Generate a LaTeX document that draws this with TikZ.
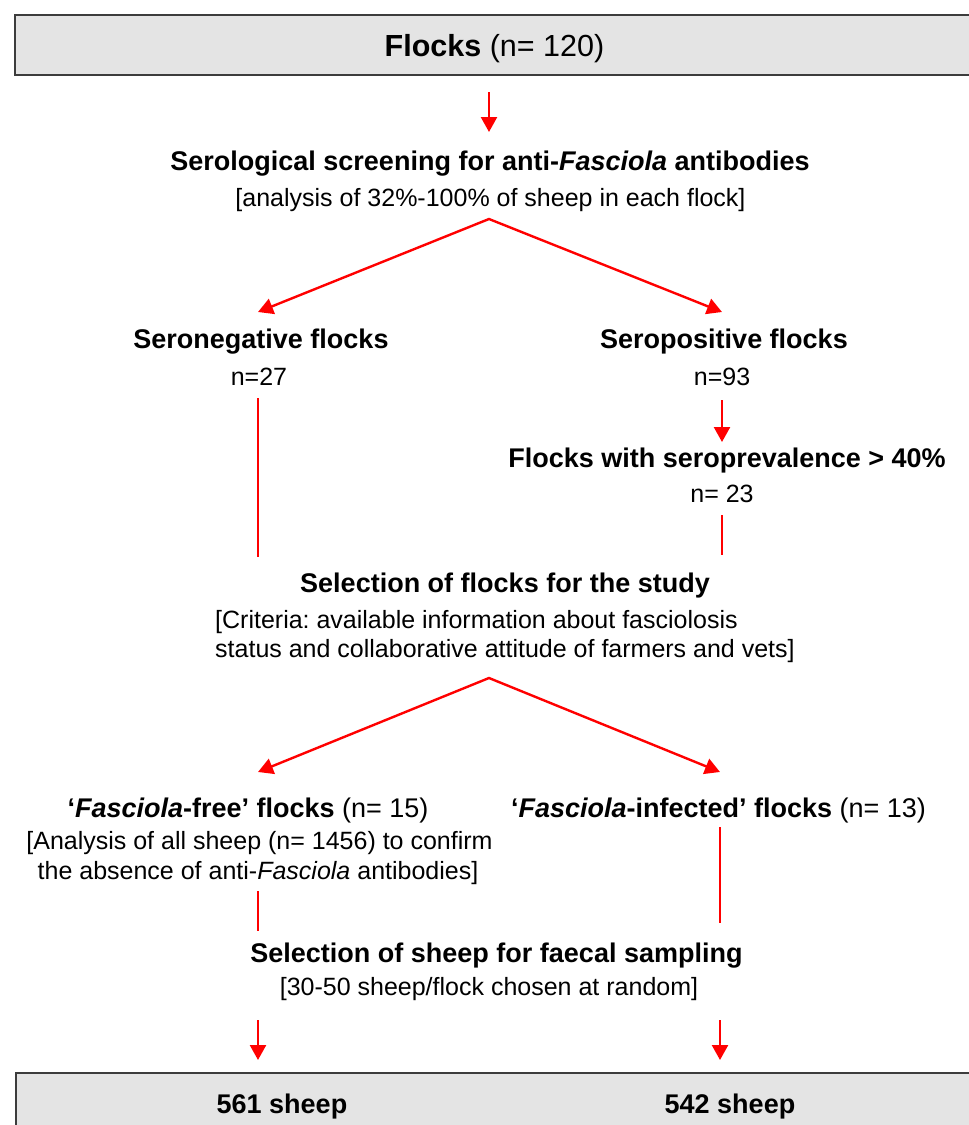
\documentclass[tikz,border=0pt]{standalone}
\usepackage{fontspec}
\setmainfont{Liberation Sans}
\usetikzlibrary{arrows.meta}
\definecolor{boxgray}{HTML}{E4E4E4}
\definecolor{boxline}{HTML}{3C3C3C}
\definecolor{arrred}{HTML}{FF0000}
\frenchspacing
\begin{document}
\begin{tikzpicture}[x=1pt,y=-1pt,
  hd/.style={anchor=base, inner sep=0pt, font=\fontsize{27}{32}\selectfont\bfseries},
  sub/.style={anchor=base, inner sep=0pt, font=\fontsize{25}{29}\selectfont},
  big/.style={anchor=base, inner sep=0pt, font=\fontsize{30.5}{36}\selectfont},
  panel/.style={draw=boxline, fill=boxgray, line width=1.5pt, inner sep=0pt},
  tipa/.tip={Triangle[width=16pt,length=15pt]},
  arr/.style={draw=arrred, line width=2.4pt, -tipa},
  darr/.style={draw=arrred, line width=2.4pt, tipa-tipa, line join=miter},
  ln/.style={draw=arrred, line width=2.4pt},
]
\useasboundingbox (0,0) rectangle (969,1125);
\clip (0,0) rectangle (969,1125);

% boxes
\node[panel, anchor=north west, minimum width=975pt, minimum height=60pt] (topbox) at (14,14) {};
\node[panel, anchor=north west, minimum width=975pt, minimum height=80pt] (botbox) at (15,1072) {};

% texts
\node[big] (flocks) at (494.5,56) {\textbf{Flocks} (n= 120)};
\node[hd] (screen) at (490,170) {Serological screening for anti-\textit{Fasciola} antibodies};
\node[sub] (screensub) at (490.5,206) {[analysis of 32\%-100\% of sheep in each flock]};
\node[hd] (neg) at (261,348) {Seronegative flocks};
\node[sub] (negn) at (259,385) {n=27};
\node[hd] (pos) at (724,348) {Seropositive flocks};
\node[sub] (posn) at (722,385) {n=93};
\node[hd] (prev) at (727,467) {Flocks with seroprevalence > 40\%};
\node[sub] (prevn) at (722,502) {n= 23};
\node[hd] (sel) at (505,592) {Selection of flocks for the study};
\node[sub, anchor=base west] (crit1) at (215,628) {[Criteria: available information about fasciolosis};
\node[sub, anchor=base west] (crit2) at (215,657) {status and collaborative attitude of farmers and vets]};
\node[hd] (free) at (248,817) {‘\textit{Fasciola}-free’ flocks \textmd{(n= 15)}};
\node[sub] (free1) at (259.5,849) {[Analysis of all sheep (n= 1456) to confirm};
\node[sub] (free2) at (258,879) {the absence of anti-\textit{Fasciola} antibodies]};
\node[hd] (inf) at (718.5,817) {‘\textit{Fasciola}-infected’ flocks \textmd{(n= 13)}};
\node[hd] (fec) at (496.5,962) {Selection of sheep for faecal sampling};
\node[sub] (fecsub) at (489,995) {[30-50 sheep/flock chosen at random]};
\node[hd] (s561) at (282,1113) {561 sheep};
\node[hd] (s542) at (730,1113) {542 sheep};

% connector end points
\coordinate (a1s) at (489,92);
\coordinate (a1e) at (489,132);
\coordinate (d1) at (489,219);
\coordinate (d1l) at (258,312);
\coordinate (d1r) at (722,312);
\coordinate (negl1) at (258,398);
\coordinate (negl2) at (258,557);
\coordinate (posa1) at (722,400);
\coordinate (posa2) at (722,442);
\coordinate (prevl1) at (722,515);
\coordinate (prevl2) at (722,555);
\coordinate (d2) at (489,678);
\coordinate (d2l) at (258,772);
\coordinate (d2r) at (720,772);
\coordinate (freel1) at (258,891);
\coordinate (freel2) at (258,931);
\coordinate (infl1) at (720,827);
\coordinate (infl2) at (720,923);
\coordinate (fa1) at (258,1020);
\coordinate (fa2) at (258,1060);
\coordinate (fb1) at (720,1020);
\coordinate (fb2) at (720,1060);

% connectors
\draw[arr] (a1s) -- (a1e);
\draw[darr] (d1l) -- (d1) -- (d1r);
\draw[ln] (negl1) -- (negl2);
\draw[arr] (posa1) -- (posa2);
\draw[ln] (prevl1) -- (prevl2);
\draw[darr] (d2l) -- (d2) -- (d2r);
\draw[ln] (freel1) -- (freel2);
\draw[ln] (infl1) -- (infl2);
\draw[arr] (fa1) -- (fa2);
\draw[arr] (fb1) -- (fb2);
\end{tikzpicture}
\end{document}
